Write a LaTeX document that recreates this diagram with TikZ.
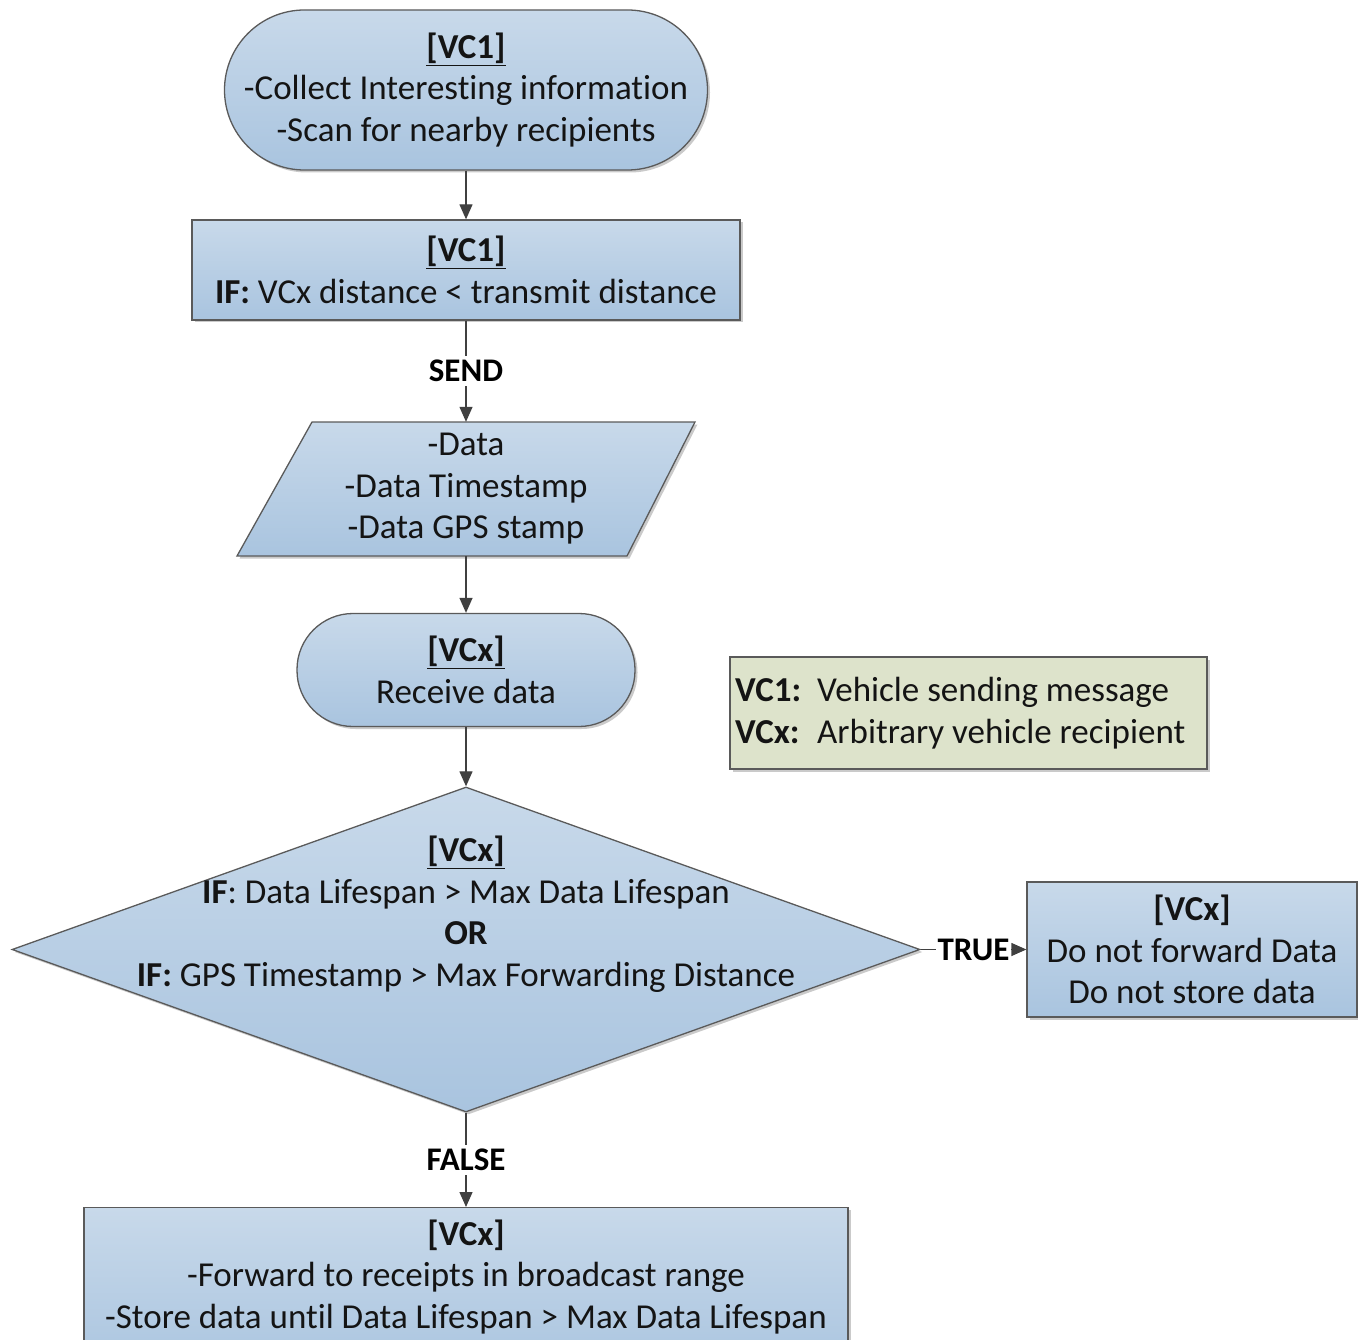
\documentclass[tikz,border=0pt]{standalone}
\usepackage{fontspec}
\setmainfont{Carlito}[Ligatures=NoCommon]
\usetikzlibrary{shapes.geometric,arrows.meta,shadows}

\definecolor{edgegray}{HTML}{5A5A5A}
\definecolor{arrowgray}{HTML}{404040}
\definecolor{blueTop}{HTML}{C8D9EA}
\definecolor{blueBot}{HTML}{A9C4DF}
\definecolor{legendfill}{HTML}{DDE3CB}

\tikzset{
  flowshape/.style={draw=edgegray, line width=1.3pt, top color=blueTop, bottom color=blueBot,
    drop shadow={shadow xshift=2.5pt, shadow yshift=-2.5pt, opacity=0.35, fill=black!60},
    inner sep=0pt},
  txt/.style={font=\fontsize{35}{41.5}\selectfont, align=center, text=black!92},
  flow/.style={draw=arrowgray, line width=1.3pt, -{Triangle[width=13pt,length=15pt]}},
  lbl/.style={font=\fontsize{33}{36}\selectfont\bfseries, fill=white, inner xsep=1.5pt, inner ysep=4pt},
}

\begin{document}
\begin{tikzpicture}[x=1pt,y=-1pt]
\useasboundingbox (0,0) rectangle (1358,1340);

% start terminal
\node[flowshape, txt, rounded corners=80pt, minimum width=483pt, minimum height=160pt] (t1) at (466,90)
  {\underline{\textbf{[VC1]}}\\-Collect Interesting information\\-Scan for nearby recipients};

% distance test
\node[flowshape, txt, minimum width=548pt, minimum height=100pt] (b1) at (466,270)
  {\underline{\textbf{[VC1]}}\\\textbf{IF:} VCx distance < transmit distance};

% data parallelogram
\coordinate (pc) at (466,489);
\path[flowshape] (pc) ++(-154,-67) -- ++(383,0) -- ++(-68,134) -- ++(-390,0) -- cycle;
\node[txt, minimum width=390pt, minimum height=134pt, inner sep=0pt] (p) at (pc)
  {-Data\\-Data Timestamp\\-Data GPS stamp};

% receive terminal
\node[flowshape, txt, rounded corners=56pt, minimum width=338pt, minimum height=113pt] (t2) at (466,670)
  {\underline{\textbf{[VCx]}}\\Receive data};

% legend
\node[draw=edgegray, line width=1.3pt, fill=legendfill, minimum width=477pt, minimum height=112pt,
  drop shadow={shadow xshift=2.5pt, shadow yshift=-2.5pt, opacity=0.35, fill=black!60}] (leg) at (968.5,713) {};
\node[txt, align=left, anchor=west, inner sep=0pt] (legtxt) at (735,713)
  {\makebox[82pt][l]{\textbf{VC1:}}Vehicle sending message\\\makebox[82pt][l]{\textbf{VCx:}}Arbitrary vehicle recipient};

% decision
\node[flowshape, diamond, minimum width=908pt, minimum height=325pt] (d) at (466,949.5) {};
\node[txt] (dtxt) at (466,914)
  {\underline{\textbf{[VCx]}}\\\textbf{IF}: Data Lifespan > Max Data Lifespan\\\textbf{OR}\\\textbf{IF:} GPS Timestamp > Max Forwarding Distance};

% true branch
\node[flowshape, txt, minimum width=330pt, minimum height=135pt] (r) at (1192,949.5)
  {\textbf{[VCx]}\\Do not forward Data\\Do not store data};

% false branch
\node[flowshape, minimum width=764pt, minimum height=170pt, anchor=north] (bb) at (466,1207) {};
\node[txt] (bbtxt) at (466,1277)
  {\textbf{[VCx]}\\-Forward to receipts in broadcast range\\-Store data until Data Lifespan > Max Data Lifespan};

% connectors
\draw[flow] (t1) -- (b1);
\draw[flow] (b1) -- node[lbl] (send) {SEND} (p);
\draw[flow] (p) -- (t2);
\draw[flow] (t2) -- (d);
\draw[flow] (d.east) -- node[lbl] (true) {TRUE} (r.west);
\draw[flow] (d.south) -- node[lbl] (false) {FALSE} (bb.north);
\end{tikzpicture}
\end{document}
